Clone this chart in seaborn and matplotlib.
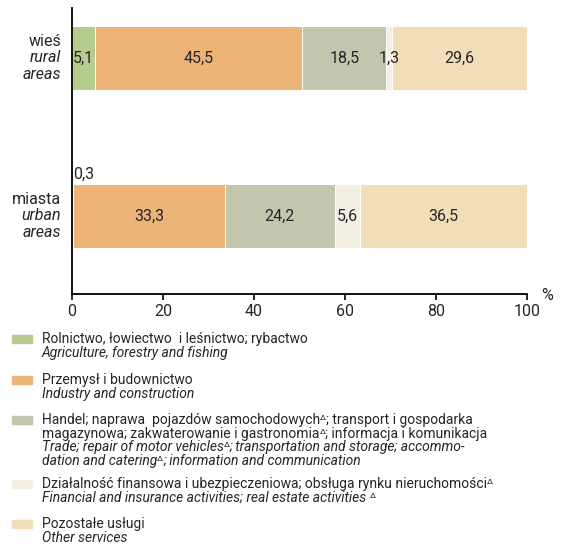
import numpy as np
import pandas as pd
import matplotlib
matplotlib.use("Agg")
import matplotlib.pyplot as plt
import matplotlib.transforms as mtransforms
from matplotlib.patches import Rectangle
import seaborn as sns

# Data
areas = ["wieś", "miasta"]
areas_en = ["rural\nareas", "urban\nareas"]
sectors = ["Rolnictwo", "Przemysł", "Handel", "Finanse", "Pozostałe"]
rural = [5.1, 45.5, 18.5, 1.3, 29.6]
urban = [0.3, 33.3, 24.2, 5.6, 36.5]
colors = ["#b5cc8e", "#ecb476", "#c3c5ad", "#f4efe3", "#f2ddb9"]

# legend texts, "Δ" is drawn as a superscript
legend_pl = [
    ["Rolnictwo, łowiectwo  i leśnictwo; rybactwo"],
    ["Przemysł i budownictwo"],
    ["Handel; naprawa  pojazdów samochodowychΔ; transport i gospodarka",
     "magazynowa; zakwaterowanie i gastronomiaΔ; informacja i komunikacja"],
    ["Działalność finansowa i ubezpieczeniowa; obsługa rynku nieruchomościΔ"],
    ["Pozostałe usługi"],
]
legend_en = [
    ["Agriculture, forestry and fishing"],
    ["Industry and construction"],
    ["Trade; repair of motor vehiclesΔ; transportation and storage; accommo-",
     "dation and cateringΔ; information and communication"],
    ["Financial and insurance activities; real estate activities Δ"],
    ["Other services"],
]

sns.set_theme(style="white")
plt.rcParams["font.family"] = ["Roboto", "DejaVu Sans"]

df = pd.DataFrame({"area": np.repeat(areas, len(sectors)),
                   "sector": sectors * len(areas),
                   "value": rural + urban})
df["cum"] = df.groupby("area")["value"].cumsum()
df["start"] = df["cum"] - df["value"]

W, H = 572, 551
fig = plt.figure(figsize=(W / 100, H / 100), dpi=100)
ax = fig.add_axes([72 / W, 1 - 294 / H, (527 - 72) / W, (294 - 8) / H])

# stacked bars: draw cumulative totals from the largest down
for sec, col in reversed(list(zip(sectors, colors))):
    sub = df[df["sector"] == sec]
    sns.barplot(data=sub, x="cum", y="area", order=areas, orient="h",
                color=col, saturation=1, width=0.405, edgecolor="white",
                linewidth=0.7, ax=ax)

ax.set_xlim(0, 100)
ax.set_ylim(1.494, -0.316)
ax.set_xticks(range(0, 101, 20))
ax.set_yticks([])
ax.set_xlabel("")
ax.set_ylabel("")
for s in ["top", "right"]:
    ax.spines[s].set_visible(False)
for s in ["left", "bottom"]:
    ax.spines[s].set_color("black")
    ax.spines[s].set_linewidth(1.3)
ax.tick_params(axis="x", direction="out", length=4, width=1.2, color="black",
               labelsize=11.5, pad=3, bottom=True)
ax.text(1.045, -0.005, "%", transform=ax.transAxes, fontsize=11.5,
        ha="center", va="center")

# value labels
for _, r in df.iterrows():
    lab = f"{r['value']:.1f}".replace(".", ",")
    yi = areas.index(r["area"])
    if r["value"] < 1:
        ax.text(0.2, yi - 0.265, lab, fontsize=11.5, ha="left", va="center")
    else:
        ax.text(r["start"] + r["value"] / 2, yi, lab, fontsize=11.5,
                ha="center", va="center")

# category labels
tr = mtransforms.blended_transform_factory(ax.transAxes, ax.transData)
for i, (pl, en) in enumerate(zip(areas, areas_en)):
    ax.text(-0.024, i - 0.104, pl, transform=tr, ha="right", va="center",
            fontsize=11.5)
    ax.text(-0.024, i + 0.052, en, transform=tr, ha="right", va="center",
            fontsize=11.5, style="italic", linespacing=1.2)

# legend
renderer = fig.canvas.get_renderer()


def legend_line(x_px, y_px, line, style):
    parts = line.split("Δ")
    for j, part in enumerate(parts):
        t = fig.text(x_px / W, 1 - y_px / H, part, fontsize=10,
                     ha="left", va="baseline", style=style)
        x_px += t.get_window_extent(renderer).width
        if j < len(parts) - 1:
            d = fig.text(x_px / W, 1 - (y_px - 4) / H, "Δ", fontsize=6,
                         ha="left", va="baseline")
            x_px += d.get_window_extent(renderer).width


starts = [339, 380, 420, 484, 524]
lh = 13.6
for y0, pl, en, col in zip(starts, legend_pl, legend_en, colors):
    fig.patches.append(Rectangle((12 / W, 1 - (y0 + 4) / H), 20 / W, 8 / H,
                                 transform=fig.transFigure, color=col))
    k = 0
    for line in pl:
        legend_line(42, y0 + 4 + k * lh, line, "normal")
        k += 1
    for line in en:
        legend_line(42, y0 + 4 + k * lh, line, "italic")
        k += 1

fig.savefig("out.png", dpi=100)
